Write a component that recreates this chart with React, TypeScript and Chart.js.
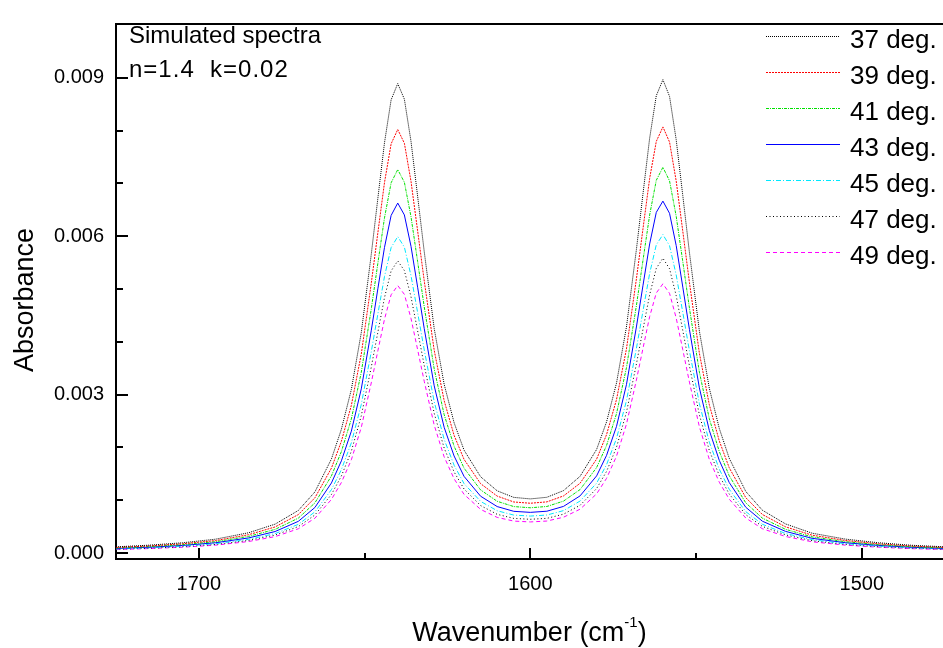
import React, { useEffect, useRef } from "react";
import { Chart, registerables } from "chart.js";

Chart.register(...registerables);

const wavenumbers = [1725, 1715, 1705, 1695, 1685, 1677, 1670, 1665, 1660, 1657, 1654, 1651, 1648, 1646, 1644, 1642, 1640, 1638, 1636, 1634, 1632, 1629, 1626, 1623, 1620, 1615, 1610, 1605, 1600, 1595, 1590, 1585, 1580, 1577, 1574, 1571, 1568, 1566, 1564, 1562, 1560, 1558, 1556, 1554, 1552, 1549, 1546, 1543, 1540, 1535, 1530, 1523, 1515, 1505, 1495, 1485, 1475];

const abs37 = [0.000118, 0.00015, 0.000195, 0.000263, 0.000385, 0.000548, 0.000807, 0.001158, 0.001783, 0.002345, 0.003098, 0.004175, 0.005651, 0.006718, 0.00777, 0.008583, 0.008892, 0.008596, 0.007797, 0.006758, 0.005705, 0.004252, 0.003197, 0.002469, 0.00195, 0.001445, 0.001179, 0.001055, 0.001026, 0.001057, 0.001183, 0.001453, 0.001963, 0.002485, 0.00322, 0.004282, 0.005748, 0.00681, 0.007858, 0.008662, 0.008966, 0.008649, 0.007831, 0.00677, 0.005694, 0.004206, 0.003121, 0.002362, 0.001797, 0.001167, 0.000812, 0.000552, 0.000377, 0.000265, 0.000196, 0.000148, 0.000119];
const abs39 = [0.000107, 0.000135, 0.000176, 0.000237, 0.000348, 0.000495, 0.000729, 0.001046, 0.00161, 0.002118, 0.002797, 0.00377, 0.005103, 0.006066, 0.007016, 0.00775, 0.008022, 0.007762, 0.007041, 0.006102, 0.005152, 0.00384, 0.002887, 0.00223, 0.001775, 0.001315, 0.001079, 0.000968, 0.000944, 0.00097, 0.001082, 0.001322, 0.00178, 0.002244, 0.002908, 0.003867, 0.00519, 0.006149, 0.007096, 0.007796, 0.008071, 0.007784, 0.007048, 0.006093, 0.005125, 0.003785, 0.002809, 0.002126, 0.001617, 0.00105, 0.000731, 0.000497, 0.000339, 0.000239, 0.000176, 0.000133, 0.000107];
const abs41 = [0.0000968, 0.000123, 0.00016, 0.000216, 0.000316, 0.000449, 0.000662, 0.00095, 0.001462, 0.001923, 0.00254, 0.003424, 0.004617, 0.005489, 0.006348, 0.007012, 0.007263, 0.007023, 0.00637, 0.005521, 0.004661, 0.003487, 0.002622, 0.002025, 0.001609, 0.001196, 0.000981, 0.000881, 0.000858, 0.000883, 0.000984, 0.001203, 0.00162, 0.002038, 0.00264, 0.003511, 0.004685, 0.00555, 0.006404, 0.00706, 0.007306, 0.007049, 0.006382, 0.005518, 0.004641, 0.003428, 0.002544, 0.001925, 0.001465, 0.000951, 0.000662, 0.00045, 0.000307, 0.000216, 0.00016, 0.000121, 0.000097];
const abs43 = [0.000088, 0.000112, 0.000145, 0.000196, 0.000287, 0.000408, 0.000601, 0.000863, 0.001328, 0.001747, 0.002308, 0.00311, 0.00421, 0.005005, 0.005789, 0.006394, 0.006629, 0.006404, 0.005809, 0.005035, 0.00425, 0.003168, 0.002382, 0.001839, 0.001453, 0.001077, 0.000881, 0.000791, 0.000771, 0.000793, 0.000884, 0.001083, 0.001462, 0.001851, 0.002399, 0.00319, 0.004282, 0.005073, 0.005854, 0.006453, 0.006666, 0.006435, 0.005826, 0.005037, 0.004236, 0.003129, 0.002322, 0.001757, 0.001337, 0.000868, 0.000604, 0.000411, 0.00028, 0.000197, 0.000146, 0.00011, 0.0000885];
const abs45 = [0.0000795, 0.000101, 0.000131, 0.000177, 0.00026, 0.000369, 0.000544, 0.00078, 0.001202, 0.001581, 0.002088, 0.002814, 0.003809, 0.004528, 0.005237, 0.005785, 0.005994, 0.005794, 0.005255, 0.004555, 0.003845, 0.002866, 0.002155, 0.001664, 0.001316, 0.000979, 0.000802, 0.00072, 0.000701, 0.000721, 0.000804, 0.000985, 0.001325, 0.001675, 0.00217, 0.002886, 0.003874, 0.00459, 0.005296, 0.005838, 0.006032, 0.005821, 0.00527, 0.004556, 0.003832, 0.002831, 0.0021, 0.00159, 0.001209, 0.000785, 0.000546, 0.000371, 0.000254, 0.000178, 0.000132, 0.0000996, 0.0000801];
const abs47 = [0.0000735, 0.0000934, 0.000121, 0.000164, 0.00024, 0.000341, 0.000502, 0.000721, 0.00111, 0.00146, 0.001929, 0.0026, 0.003518, 0.004182, 0.004837, 0.005343, 0.005534, 0.005351, 0.004854, 0.004207, 0.003552, 0.002647, 0.00199, 0.001537, 0.001214, 0.0009, 0.000734, 0.000657, 0.00064, 0.000658, 0.000737, 0.000905, 0.001222, 0.001547, 0.002005, 0.002666, 0.003579, 0.00424, 0.004893, 0.005393, 0.005584, 0.005385, 0.004876, 0.004215, 0.003545, 0.002619, 0.001943, 0.001471, 0.001119, 0.000727, 0.000506, 0.000344, 0.000235, 0.000165, 0.000122, 0.0000921, 0.0000741];
const abs49 = [0.0000673, 0.0000855, 0.000111, 0.00015, 0.000219, 0.000312, 0.00046, 0.00066, 0.001016, 0.001337, 0.001766, 0.00238, 0.003221, 0.003829, 0.004429, 0.004892, 0.005067, 0.0049, 0.004444, 0.003852, 0.003252, 0.002424, 0.001822, 0.001407, 0.001112, 0.000827, 0.000676, 0.000606, 0.00059, 0.000607, 0.000679, 0.000831, 0.001121, 0.001416, 0.001835, 0.002441, 0.003276, 0.003882, 0.004479, 0.004926, 0.005099, 0.004919, 0.004454, 0.00385, 0.003238, 0.002392, 0.001775, 0.001343, 0.001022, 0.000664, 0.000462, 0.000314, 0.000214, 0.000151, 0.000111, 0.0000842, 0.0000677];

const seriesLabels = ["37 deg.", "39 deg.", "41 deg.", "43 deg.", "45 deg.", "47 deg.", "49 deg."];
const seriesValues = [abs37, abs39, abs41, abs43, abs45, abs47, abs49];
const seriesColors = ["#000000", "#ff0000", "#00e000", "#0000ff", "#00e8ff", "#000000", "#ff00ff"];
const seriesDashes = [[1, 1], [2, 1], [3, 1, 1, 1], [], [5, 2, 1, 2], [1, 2.5], [4, 3]];

const xMajorTicks = [1700, 1600, 1500];
const xMinorTicks = [1650, 1550];
const yMajorTicks = [0, 0.003, 0.006, 0.009];
const yMinorTicks = [0.001, 0.002, 0.004, 0.005, 0.007, 0.008];

const annotationLines = ["Simulated spectra", "n=1.4  k=0.02"];
const xTitle = "Wavenumber (cm";
const xTitleSup = "-1";
const yTitle = "Absorbance";

const FONT = "'Liberation Sans', Arial, sans-serif";

const decorPlugin = {
  id: "decor",
  afterDraw(chart: any) {
    const ctx = chart.ctx;
    const { left, top, right, bottom } = chart.chartArea;
    const xs = chart.scales.x;
    const ys = chart.scales.y;
    ctx.save();
    ctx.strokeStyle = "#000";
    ctx.lineWidth = 2;
    ctx.setLineDash([]);
    // top border
    ctx.beginPath();
    ctx.moveTo(left - 1, top);
    ctx.lineTo(right, top);
    ctx.stroke();
    // y ticks (inward)
    yMajorTicks.forEach((v) => {
      const p = Math.round(ys.getPixelForValue(v));
      ctx.beginPath();
      ctx.moveTo(left, p);
      ctx.lineTo(left + 12, p);
      ctx.stroke();
    });
    yMinorTicks.forEach((v) => {
      const p = Math.round(ys.getPixelForValue(v));
      ctx.beginPath();
      ctx.moveTo(left, p);
      ctx.lineTo(left + 7, p);
      ctx.stroke();
    });
    // x ticks (inward)
    xMajorTicks.forEach((v) => {
      const p = Math.round(xs.getPixelForValue(v));
      ctx.beginPath();
      ctx.moveTo(p, bottom);
      ctx.lineTo(p, bottom - 11);
      ctx.stroke();
    });
    xMinorTicks.forEach((v) => {
      const p = Math.round(xs.getPixelForValue(v));
      ctx.beginPath();
      ctx.moveTo(p, bottom);
      ctx.lineTo(p, bottom - 6);
      ctx.stroke();
    });

    ctx.fillStyle = "#000";
    // annotation
    ctx.font = `24px ${FONT}`;
    ctx.textAlign = "left";
    ctx.textBaseline = "alphabetic";
    ctx.fillText(annotationLines[0], 129, 43);
    ctx.save();
    try { (ctx as any).letterSpacing = "1px"; } catch (e) {}
    ctx.fillText(annotationLines[1], 129, 77);
    ctx.restore();

    // legend
    chart.data.datasets.forEach((ds: any, i: number) => {
      const yy = 36 * (i + 1) + 0.5;
      ctx.save();
      ctx.strokeStyle = ds.borderColor;
      ctx.lineWidth = 1;
      ctx.setLineDash(ds.borderDash || []);
      ctx.beginPath();
      ctx.moveTo(766, yy);
      ctx.lineTo(840, yy);
      ctx.stroke();
      ctx.restore();
      ctx.font = `26px ${FONT}`;
      ctx.textAlign = "left";
      ctx.textBaseline = "alphabetic";
      ctx.fillText(ds.label, 850, yy + 11.5);
    });

    // x title with superscript
    ctx.font = `27px ${FONT}`;
    const w1 = ctx.measureText(xTitle).width;
    const w3 = ctx.measureText(")").width;
    ctx.font = `15px ${FONT}`;
    const w2 = ctx.measureText(xTitleSup).width;
    const total = w1 + w2 + w3;
    const cx = (left + right) / 2;
    let sx = cx - total / 2;
    const base = 641;
    ctx.textAlign = "left";
    ctx.font = `27px ${FONT}`;
    ctx.fillText(xTitle, sx, base);
    sx += w1;
    ctx.font = `15px ${FONT}`;
    ctx.fillText(xTitleSup, sx, base - 14);
    sx += w2;
    ctx.font = `27px ${FONT}`;
    ctx.fillText(")", sx, base);

    // y title
    ctx.save();
    ctx.translate(33, 300);
    ctx.rotate(-Math.PI / 2);
    ctx.font = `27px ${FONT}`;
    ctx.textAlign = "center";
    ctx.textBaseline = "alphabetic";
    ctx.fillText(yTitle, 0, 0);
    ctx.restore();

    ctx.restore();
  },
};

export default function App() {
  const canvasRef = useRef<HTMLCanvasElement | null>(null);

  useEffect(() => {
    const canvas = canvasRef.current;
    if (!canvas) return;
    const datasets = seriesValues.map((vals, i) => ({
      label: seriesLabels[i],
      data: wavenumbers.map((w, j) => ({ x: w, y: vals[j] })),
      borderColor: seriesColors[i],
      backgroundColor: seriesColors[i],
      borderDash: seriesDashes[i],
      borderWidth: 1,
      pointRadius: 0,
      tension: 0,
      fill: false,
    }));
    const chart = new Chart(canvas, {
      type: "line",
      data: { datasets },
      options: {
        responsive: false,
        animation: false,
        devicePixelRatio: 1,
        layout: { padding: { top: 16, left: 0, right: 0, bottom: 0 } },
        plugins: {
          legend: { display: false },
          title: { display: false },
          tooltip: { enabled: false },
        },
        scales: {
          x: {
            type: "linear",
            position: "bottom",
            reverse: true,
            min: 1475.5,
            max: 1725,
            afterBuildTicks: (scale: any) => {
              scale.ticks = xMajorTicks.map((v) => ({ value: v }));
            },
            afterFit: (scale: any) => {
              scale.height = 89;
            },
            grid: { display: false, drawTicks: false },
            border: { display: true, color: "#000", width: 2 },
            ticks: {
              color: "#000",
              font: { family: FONT, size: 20 },
              padding: 13,
              maxRotation: 0,
              autoSkip: false,
              callback: (v: any) => String(v),
            },
          },
          y: {
            type: "linear",
            position: "left",
            min: -0.000112,
            max: 0.01002,
            afterBuildTicks: (scale: any) => {
              scale.ticks = yMajorTicks.map((v) => ({ value: v }));
            },
            afterFit: (scale: any) => {
              scale.width = 116;
            },
            grid: { display: false, drawTicks: false },
            border: { display: true, color: "#000", width: 2 },
            ticks: {
              color: "#000",
              font: { family: FONT, size: 20 },
              padding: 12,
              autoSkip: false,
              callback: (v: any) => Number(v).toFixed(3),
            },
          },
        },
      },
      plugins: [decorPlugin],
    } as any);
    return () => chart.destroy();
  }, []);

  return (
    <div style={{ position: "absolute", left: 0, top: 0, width: 943, height: 648, background: "#fff" }}>
      <canvas ref={canvasRef} width={943} height={648} style={{ width: 943, height: 648, display: "block" }} />
    </div>
  );
}
